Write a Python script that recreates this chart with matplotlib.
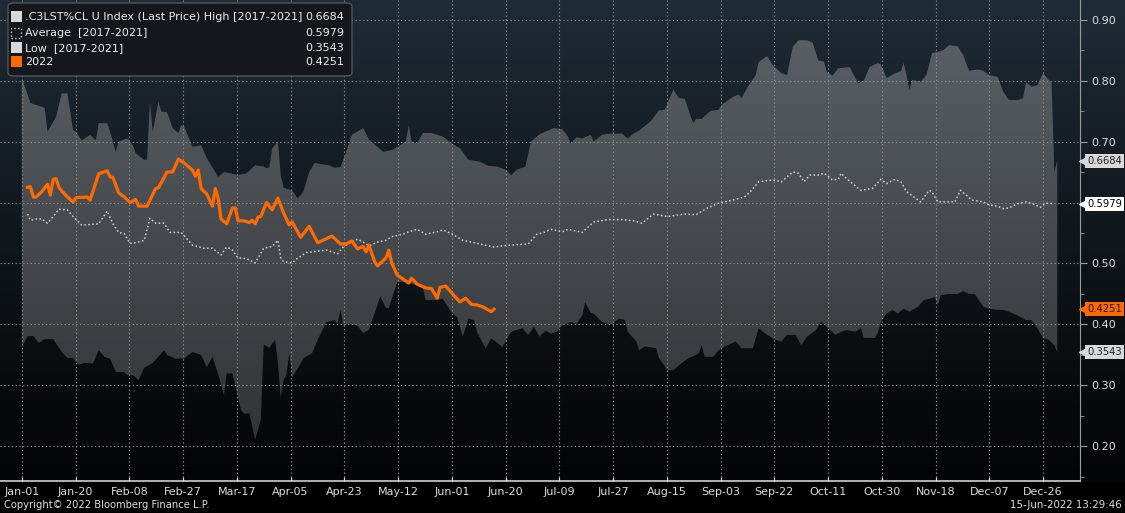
import numpy as np
import matplotlib.pyplot as plt
import matplotlib.transforms as mtransforms
from matplotlib.colors import LinearSegmentedColormap
from matplotlib.patches import FancyBboxPatch, Rectangle

# x = day of year (Jan-01 = 0)
high_x = [0, 3, 7, 8, 9, 12, 14, 16, 18, 19, 21, 24, 26, 27, 30, 31, 33, 34, 37, 39,
          40, 43, 44, 45, 46, 48, 49, 51, 53, 55, 56, 57, 60, 63, 65, 69, 71, 76, 79, 82,
          85, 86, 87, 88, 90, 91, 92, 95, 97, 99, 101, 103, 105, 108, 110, 112, 114, 116, 120, 122,
          124, 127, 130, 132, 135, 136, 137, 139, 141, 144, 148, 151, 154, 156, 157, 161, 164, 167, 170, 172,
          174, 177, 179, 182, 187, 190, 192, 193, 195, 197, 200, 201, 204, 207, 211, 213, 215, 217, 221, 224,
          226, 229, 231, 233, 236, 237, 239, 242, 245, 246, 250, 252, 253, 255, 258, 259, 262, 264, 267, 269,
          271, 273, 276, 278, 280, 282, 283, 285, 287, 291, 294, 296, 298, 301, 302, 304, 307, 309, 310, 311,
          312, 313, 316, 318, 320, 322, 324, 326, 329, 331, 332, 333, 336, 338, 340, 343, 345, 347, 350, 352,
          353, 355, 357, 359, 361, 362, 363, 364]
high_y = [0.804, 0.763, 0.757, 0.755, 0.716, 0.740, 0.779, 0.779, 0.719, 0.716, 0.702, 0.711, 0.702, 0.730, 0.730, 0.716, 0.683, 0.700, 0.705, 0.694,
          0.681, 0.670, 0.670, 0.765, 0.716, 0.765, 0.749, 0.748, 0.722, 0.714, 0.727, 0.725, 0.691, 0.694, 0.673, 0.642, 0.650, 0.645, 0.648, 0.661,
          0.659, 0.656, 0.658, 0.689, 0.700, 0.645, 0.624, 0.620, 0.607, 0.618, 0.650, 0.665, 0.663, 0.661, 0.657, 0.658, 0.683, 0.711, 0.722, 0.703,
          0.695, 0.683, 0.686, 0.691, 0.700, 0.727, 0.700, 0.697, 0.714, 0.714, 0.708, 0.697, 0.689, 0.676, 0.670, 0.667, 0.660, 0.659, 0.654, 0.645,
          0.654, 0.659, 0.700, 0.712, 0.722, 0.720, 0.708, 0.696, 0.707, 0.705, 0.711, 0.700, 0.711, 0.713, 0.713, 0.705, 0.713, 0.718, 0.733, 0.751,
          0.752, 0.785, 0.771, 0.770, 0.730, 0.737, 0.737, 0.750, 0.752, 0.760, 0.773, 0.777, 0.771, 0.788, 0.809, 0.830, 0.840, 0.825, 0.812, 0.809,
          0.855, 0.866, 0.866, 0.862, 0.833, 0.831, 0.814, 0.808, 0.820, 0.822, 0.796, 0.800, 0.822, 0.829, 0.826, 0.804, 0.812, 0.815, 0.829, 0.809,
          0.785, 0.801, 0.798, 0.809, 0.845, 0.847, 0.850, 0.858, 0.856, 0.841, 0.828, 0.816, 0.818, 0.816, 0.809, 0.806, 0.782, 0.768, 0.768, 0.771,
          0.797, 0.790, 0.792, 0.812, 0.801, 0.797, 0.650, 0.6684]

low_x = [0, 2, 4, 6, 8, 11, 14, 16, 18, 20, 22, 25, 27, 29, 31, 33, 36, 37, 39, 41,
         43, 46, 50, 51, 54, 57, 60, 63, 65, 67, 69, 71, 72, 74, 77, 78, 80, 82, 84, 85,
         87, 89, 90, 91, 92, 93, 94, 95, 97, 99, 102, 104, 107, 110, 111, 112, 113, 115, 118, 120,
         122, 126, 128, 129, 132, 135, 139, 141, 142, 145, 148, 151, 153, 155, 157, 159, 160, 163, 165, 166,
         169, 171, 172, 174, 176, 178, 180, 182, 184, 186, 188, 190, 193, 195, 197, 198, 200, 201, 204, 206,
         207, 210, 212, 213, 216, 217, 219, 223, 224, 227, 229, 231, 234, 237, 238, 239, 240, 243, 245, 246,
         248, 251, 253, 257, 259, 262, 264, 267, 269, 272, 274, 276, 279, 281, 283, 286, 288, 290, 293, 295,
         296, 300, 301, 302, 304, 306, 308, 310, 312, 315, 317, 319, 321, 322, 323, 326, 329, 331, 333, 335,
         338, 340, 343, 345, 347, 350, 353, 355, 357, 359, 361, 363, 364]
low_y = [0.363, 0.381, 0.381, 0.370, 0.376, 0.376, 0.355, 0.345, 0.345, 0.334, 0.337, 0.336, 0.358, 0.347, 0.344, 0.322, 0.322, 0.317, 0.317, 0.309,
         0.329, 0.337, 0.358, 0.350, 0.344, 0.344, 0.355, 0.350, 0.330, 0.347, 0.319, 0.284, 0.320, 0.320, 0.260, 0.254, 0.254, 0.211, 0.244, 0.367,
         0.362, 0.375, 0.338, 0.279, 0.309, 0.317, 0.353, 0.314, 0.328, 0.345, 0.353, 0.375, 0.404, 0.407, 0.401, 0.424, 0.398, 0.401, 0.398, 0.386,
         0.391, 0.446, 0.427, 0.427, 0.470, 0.470, 0.464, 0.459, 0.440, 0.440, 0.442, 0.420, 0.412, 0.380, 0.410, 0.407, 0.388, 0.361, 0.377, 0.374,
         0.363, 0.380, 0.388, 0.391, 0.394, 0.383, 0.396, 0.380, 0.390, 0.385, 0.388, 0.399, 0.404, 0.401, 0.415, 0.437, 0.419, 0.418, 0.404, 0.401,
         0.399, 0.410, 0.407, 0.388, 0.372, 0.358, 0.364, 0.361, 0.345, 0.325, 0.325, 0.333, 0.344, 0.350, 0.353, 0.366, 0.347, 0.347, 0.358, 0.361,
         0.366, 0.372, 0.361, 0.361, 0.394, 0.383, 0.377, 0.372, 0.383, 0.383, 0.366, 0.380, 0.390, 0.404, 0.396, 0.383, 0.388, 0.391, 0.388, 0.394,
         0.378, 0.378, 0.388, 0.404, 0.418, 0.424, 0.418, 0.426, 0.421, 0.429, 0.440, 0.442, 0.445, 0.432, 0.448, 0.450, 0.450, 0.455, 0.450, 0.450,
         0.429, 0.426, 0.424, 0.424, 0.421, 0.415, 0.407, 0.407, 0.394, 0.378, 0.375, 0.366, 0.3543]

avg_x = [2, 3, 5, 7, 9, 11, 13, 16, 18, 21, 24, 27, 30, 32, 34, 36, 38, 40, 43, 45,
         47, 50, 52, 56, 60, 64, 67, 70, 72, 74, 76, 79, 82, 85, 88, 90, 91, 92, 95, 97,
         100, 102, 107, 111, 113, 115, 118, 120, 122, 125, 128, 130, 134, 136, 139, 142, 146, 148, 151, 155,
         159, 162, 166, 169, 174, 178, 181, 183, 186, 190, 192, 197, 201, 206, 211, 215, 218, 222, 227, 233,
         237, 241, 245, 250, 254, 256, 259, 264, 267, 269, 271, 273, 275, 277, 280, 282, 285, 287, 288, 290,
         292, 295, 299, 302, 304, 307, 309, 311, 313, 316, 319, 320, 322, 325, 328, 330, 332, 334, 338, 340,
         343, 345, 347, 350, 353, 356, 358, 360, 363]
avg_y = [0.581, 0.571, 0.573, 0.573, 0.566, 0.577, 0.589, 0.588, 0.577, 0.563, 0.564, 0.565, 0.586, 0.565, 0.551, 0.549, 0.533, 0.534, 0.538, 0.574,
         0.566, 0.566, 0.551, 0.551, 0.530, 0.525, 0.525, 0.514, 0.527, 0.522, 0.509, 0.508, 0.501, 0.525, 0.528, 0.538, 0.509, 0.503, 0.501, 0.509,
         0.518, 0.519, 0.522, 0.516, 0.527, 0.533, 0.540, 0.535, 0.529, 0.535, 0.538, 0.544, 0.548, 0.552, 0.556, 0.548, 0.552, 0.555, 0.549, 0.538,
         0.534, 0.531, 0.527, 0.529, 0.531, 0.532, 0.548, 0.550, 0.556, 0.552, 0.556, 0.551, 0.568, 0.572, 0.572, 0.570, 0.566, 0.581, 0.577, 0.581,
         0.580, 0.591, 0.599, 0.604, 0.609, 0.617, 0.634, 0.637, 0.634, 0.642, 0.650, 0.648, 0.634, 0.645, 0.645, 0.648, 0.637, 0.638, 0.648, 0.639,
         0.631, 0.620, 0.623, 0.638, 0.631, 0.638, 0.634, 0.618, 0.611, 0.601, 0.620, 0.617, 0.601, 0.601, 0.601, 0.620, 0.612, 0.604, 0.601, 0.596,
         0.594, 0.590, 0.591, 0.598, 0.601, 0.597, 0.592, 0.599, 0.5979]

y22_x = [2, 3, 4, 5, 7, 9, 10, 11, 12, 13, 14, 16, 18, 19, 23, 24, 27, 30, 31, 32,
         34, 36, 38, 40, 41, 44, 47, 48, 51, 53, 55, 57, 60, 61, 62, 63, 65, 67, 68, 69,
         70, 72, 74, 75, 76, 78, 80, 81, 82, 83, 84, 86, 88, 90, 92, 94, 95, 98, 101, 104,
         109, 112, 114, 116, 118, 120, 121, 122, 124, 125, 128, 129, 130, 132, 136, 137, 139, 142, 144, 146,
         147, 149, 152, 154, 156, 158, 160, 162, 165, 166]
y22_y = [0.625, 0.626, 0.609, 0.609, 0.618, 0.630, 0.612, 0.638, 0.639, 0.625, 0.619, 0.609, 0.601, 0.608, 0.609, 0.604, 0.647, 0.652, 0.642, 0.641,
         0.616, 0.609, 0.600, 0.605, 0.594, 0.594, 0.623, 0.624, 0.650, 0.650, 0.671, 0.665, 0.653, 0.643, 0.653, 0.623, 0.614, 0.594, 0.623, 0.607,
         0.573, 0.565, 0.591, 0.591, 0.570, 0.570, 0.567, 0.571, 0.565, 0.576, 0.577, 0.600, 0.588, 0.607, 0.583, 0.563, 0.568, 0.543, 0.561, 0.534,
         0.545, 0.532, 0.532, 0.537, 0.524, 0.528, 0.519, 0.530, 0.503, 0.496, 0.509, 0.522, 0.501, 0.481, 0.468, 0.476, 0.466, 0.460, 0.459, 0.443,
         0.461, 0.463, 0.447, 0.437, 0.443, 0.433, 0.432, 0.429, 0.421, 0.4251]

tick_labels = ['Jan-01', 'Jan-20', 'Feb-08', 'Feb-27', 'Mar-17', 'Apr-05', 'Apr-23', 'May-12', 'Jun-01', 'Jun-20',
               'Jul-09', 'Jul-27', 'Aug-15', 'Sep-03', 'Sep-22', 'Oct-11', 'Oct-30', 'Nov-18', 'Dec-07', 'Dec-26']
legend_labels = ['.C3LST%CL U Index (Last Price) High [2017-2021]', 'Average  [2017-2021]',
                 'Low  [2017-2021]', '2022']

W, H = 1125, 513
fig = plt.figure(figsize=(W / 100, H / 100), dpi=100, facecolor='black')

def fx(px):
    return px / W

def fy(py):
    return 1 - py / H

# background gradient (navy -> black)
bg = fig.add_axes([0, 32 / H, 1, 481 / H], zorder=-1)
bg_cmap = LinearSegmentedColormap.from_list('bg', ['#1f2b36', '#10161b', '#030405'])
bg.imshow(np.linspace(0, 1, 256).reshape(-1, 1), aspect='auto', cmap=bg_cmap, extent=[0, 1, 0, 1])
bg.axis('off')

ax = fig.add_axes([0, 32 / H, 1080 / W, 481 / H])
ax.set_facecolor('none')
xmin, xmax, ymin, ymax = -7.7, 372.0, 0.1434, 0.932

# high/low band with vertical gradient
poly = ax.fill(np.r_[high_x, low_x[::-1]], np.r_[high_y, low_y[::-1]], facecolor='none', edgecolor='none')[0]
band_cmap = LinearSegmentedColormap.from_list('band', ['#5d6369', '#45494d', '#2e3033'])
grad = ax.imshow(np.linspace(0, 1, 256).reshape(-1, 1), aspect='auto', cmap=band_cmap,
                 extent=[xmin, xmax, ymin, ymax], zorder=1)
grad.set_clip_path(poly)

ax.plot(avg_x, avg_y, color='#d6d6d6', lw=1.1, ls=(0, (1, 1.6)), zorder=3)
ax.plot(y22_x, y22_y, color='#ff6a00', lw=2.3, zorder=4, solid_joinstyle='round')

ax.set_xlim(xmin, xmax)
ax.set_ylim(ymin, ymax)

ax.set_xticks(np.arange(20) * 359 / 19, tick_labels)
ax.yaxis.tick_right()
yt = np.arange(0.2, 0.95, 0.1)
# the 0.60 label sits under the average tag
ax.set_yticks(yt, ['' if abs(v - 0.6) < 1e-6 else '%.2f' % v for v in yt])
ax.set_yticks(np.arange(0.15, 0.93, 0.05), minor=True)

ax.grid(True, which='major', color='#8c8c8c', linestyle=(0, (1.2, 2.2)), linewidth=0.8)
ax.set_axisbelow(False)

for s in ['left', 'top']:
    ax.spines[s].set_visible(False)
ax.spines['bottom'].set_color('#d0d0d0')
ax.spines['bottom'].set_linewidth(1.2)
ax.spines['right'].set_color('#9a9a9a')

ax.tick_params(axis='x', direction='in', length=3, color='#e0e0e0', labelcolor='#dcdcdc',
               labelsize=8, pad=4)
ax.tick_params(axis='y', which='major', direction='out', length=5, color='#9a9a9a',
               labelcolor='#dcdcdc', labelsize=8, pad=3)
ax.tick_params(axis='y', which='minor', direction='out', length=3, color='#9a9a9a')

# last value tags on the right
trans = mtransforms.blended_transform_factory(ax.transAxes, ax.transData)
tags = [(high_y[-1], '#d9d9d9', '#202020'), (avg_y[-1], '#ffffff', '#000000'),
        (y22_y[-1], '#ff6a00', '#1a1a1a'), (low_y[-1], '#d9d9d9', '#202020')]
for v, bc, tc in tags:
    ax.text(1.0065, v, '%.4f' % v, transform=trans, fontsize=7.2, color=tc, va='center', ha='left',
            bbox=dict(boxstyle='square,pad=0.2', fc=bc, ec='none'), clip_on=False, zorder=7)
    ax.plot([1.0035], [v], marker='<', ms=7, color=bc, transform=trans, clip_on=False, zorder=5)

# legend
fig.patches.append(FancyBboxPatch((fx(8), fy(76)), fx(344), 73 / H,
                                  boxstyle='round,pad=0,rounding_size=0.006',
                                  transform=fig.transFigure, fc='#14181c', ec='#50555a', lw=1, zorder=5))
row_y = [17, 33, 48, 62]
values = [high_y[-1], avg_y[-1], low_y[-1], y22_y[-1]]
for i, (lab, val) in enumerate(zip(legend_labels, values)):
    yy = row_y[i]
    if i == 1:
        r = Rectangle((fx(11), fy(yy + 5)), 10 / W, 10 / H, transform=fig.transFigure,
                      fc='none', ec='#d0d0d0', ls=':', lw=1, zorder=6)
    else:
        c = '#ff6a00' if i == 3 else '#d8d8d8'
        r = Rectangle((fx(11), fy(yy + 5)), 11 / W, 11 / H, transform=fig.transFigure,
                      fc=c, ec='none', zorder=6)
    fig.patches.append(r)
    fig.text(fx(25), fy(yy), lab, fontsize=8, color='#ececec', va='center', ha='left', zorder=7)
    fig.text(fx(344), fy(yy), '%.4f' % val, fontsize=8, color='#ececec', va='center', ha='right', zorder=7)

fig.text(fx(4), fy(505), 'Copyright\u00a9 2022 Bloomberg Finance L.P.', fontsize=7.2,
         color='#e0e0e0', va='center', ha='left')
fig.text(fx(1122), fy(505), '15-Jun-2022 13:29:46', fontsize=7.4, color='#e0e0e0',
         va='center', ha='right')

fig.savefig('out.png', dpi=100, facecolor='black')
